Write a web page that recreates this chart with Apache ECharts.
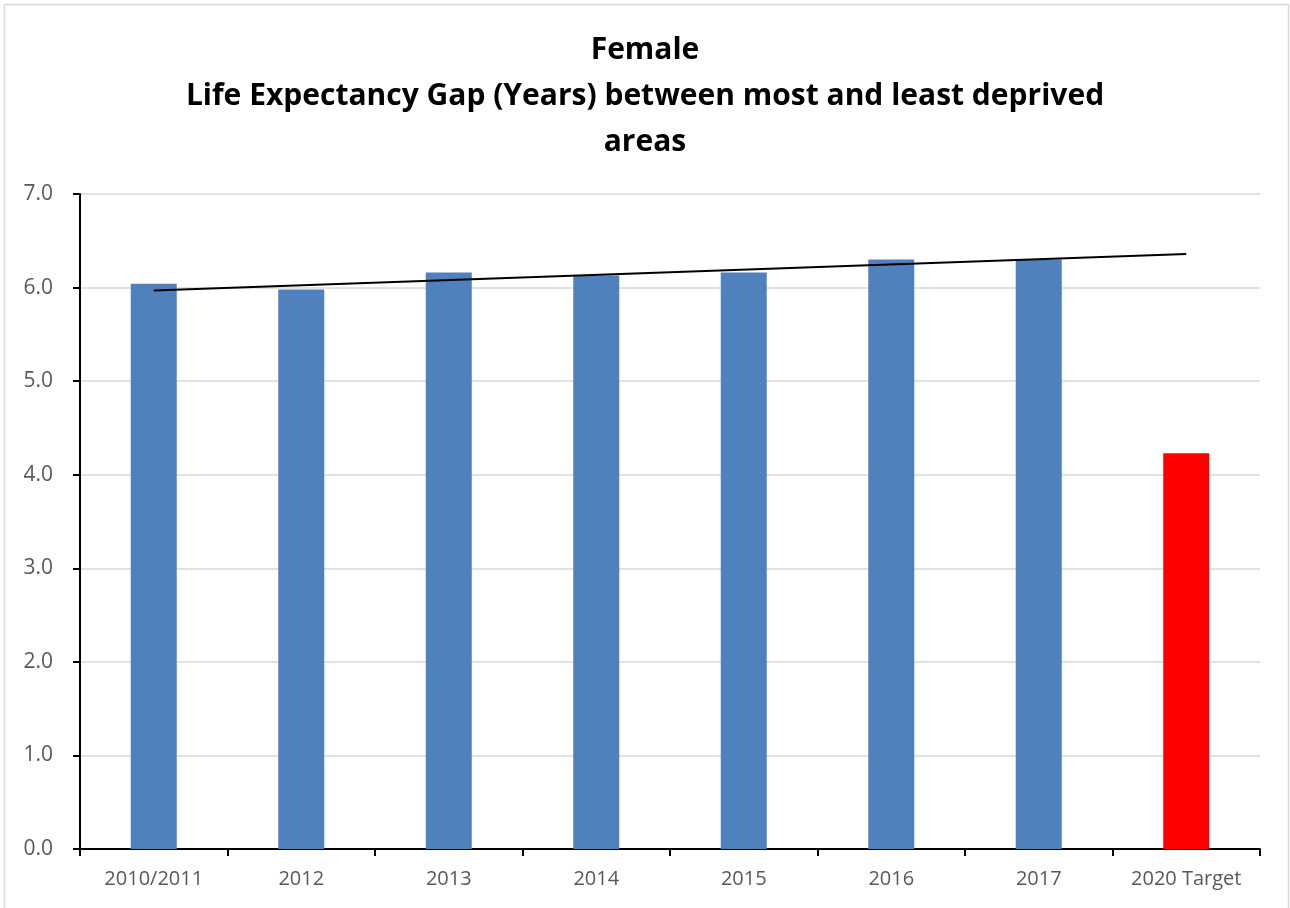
<!DOCTYPE html>
<html>
<head>
<meta charset="utf-8">
<script src="https://cdn.jsdelivr.net/npm/echarts@6/dist/echarts.min.js"></script>
<style>
  html, body { margin: 0; padding: 0; background: #fff; }
  #chart { width: 1290px; height: 908px; }
</style>
</head>
<body>
<div id="chart"></div>
<script>
const categories = ['2010/2011', '2012', '2013', '2014', '2015', '2016', '2017', '2020 Target'];
const gapValues = [6.04, 5.98, 6.16, 6.13, 6.16, 6.30, 6.30, 4.23];
const barColors = ['#4F81BD', '#4F81BD', '#4F81BD', '#4F81BD', '#4F81BD', '#4F81BD', '#4F81BD', '#FF0000'];
// trendline: ends, straight line between them
const trendLine = [5.97, null, null, null, null, null, null, 6.36];
const yTicks = [0, 1, 2, 3, 4, 5, 6, 7];

const chart = echarts.init(document.getElementById('chart'));

const option = {
  animation: false,
  title: {
    text: 'Female\nLife Expectancy Gap (Years) between most and least deprived\nareas',
    left: 'center',
    top: 22,
    textStyle: {
      color: '#000',
      fontSize: 30,
      fontWeight: 'bold',
      fontFamily: 'Open Sans, sans-serif',
      lineHeight: 46,
    },
  },
  graphic: [
    {
      type: 'rect',
      shape: { x: 4.5, y: 4.5, width: 1284, height: 910 },
      style: { fill: 'none', stroke: '#d9d9d9', lineWidth: 1.5 },
      silent: true,
    },
  ],
  grid: {
    left: 80,
    right: 30,
    top: 194,
    bottom: 59,
  },
  xAxis: {
    type: 'category',
    data: categories,
    axisLine: { lineStyle: { color: '#000', width: 2 } },
    axisTick: { show: true, length: 7, lineStyle: { color: '#000', width: 2 } },
    axisLabel: {
      color: '#595959',
      fontSize: 20,
      fontFamily: 'Open Sans, sans-serif',
      margin: 20,
    },
  },
  yAxis: {
    type: 'value',
    min: yTicks[0],
    max: yTicks[yTicks.length - 1],
    interval: 1,
    axisLine: { show: true, lineStyle: { color: '#000', width: 2 } },
    axisTick: { show: true, length: 7, lineStyle: { color: '#000', width: 2 } },
    splitLine: { lineStyle: { color: '#d9d9d9', width: 1.5 } },
    axisLabel: {
      color: '#595959',
      fontSize: 21,
      fontFamily: 'Open Sans, sans-serif',
      margin: 27,
      formatter: v => v.toFixed(1),
    },
  },
  series: [
    {
      name: 'Gap',
      type: 'bar',
      barWidth: 46,
      data: gapValues.map((v, i) => ({ value: v, itemStyle: { color: barColors[i] } })),
      z: 2,
    },
    {
      name: 'Trend',
      type: 'line',
      data: trendLine,
      connectNulls: true,
      symbol: 'none',
      lineStyle: { color: '#000', width: 2 },
      z: 3,
    },
  ],
};

chart.setOption(option);
</script>
</body>
</html>
